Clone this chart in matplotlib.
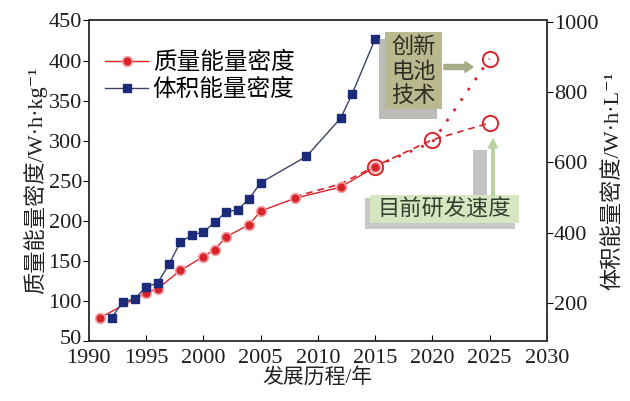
import matplotlib.pyplot as plt
from matplotlib.patches import FancyArrow, Rectangle
from matplotlib.transforms import ScaledTranslation

# mass energy density, Wh/kg (left axis)
mass_years = [1991, 1995, 1996, 1998, 2000, 2001, 2002, 2004, 2005, 2008, 2012, 2015]
mass_vals = [79, 110, 115, 138, 155, 164, 180, 195, 212, 228, 242, 267]

# volumetric energy density, Wh/L (right axis)
vol_years = [1992, 1993, 1994, 1995, 1996, 1997, 1998, 1999, 2000, 2001, 2002, 2003,
             2004, 2005, 2009, 2012, 2013, 2015]
vol_vals = [158, 204, 211, 246, 256, 310, 373, 393, 402, 429, 460, 465,
            496, 542, 617, 726, 795, 951]

# projections
trend_years = [2008, 2012, 2015, 2020, 2025]
trend_vals = [230, 246, 268, 301, 322]
new_tech_years = [2015, 2020, 2025]
new_tech_vals = [268, 298, 402]
target_years = [2015, 2020, 2025, 2025]
target_vals = [267, 301, 322, 402]

plt.rcParams['font.family'] = ['Liberation Serif', 'Noto Sans CJK SC', 'DejaVu Serif']
plt.rcParams['axes.linewidth'] = 1.1
plt.rcParams['axes.edgecolor'] = '#333333'
CJK = ['Noto Sans CJK SC', 'DejaVu Sans']

red = '#d8232a'
blue = '#1c2a7a'

fig = plt.figure(figsize=(6.3, 4.01), dpi=100)
ax = fig.add_axes([0.141, 0.150, 0.727, 0.799])
ax2 = ax.twinx()

ax.plot(trend_years, trend_vals, ls=(0, (4, 3)), color=red, lw=1.2, zorder=3)
ax.plot(new_tech_years, new_tech_vals, ls=(0, (1, 3.5)), color=red, lw=2, zorder=3)
l1, = ax.plot(mass_years, mass_vals, '-o', color=red, lw=1.0, ms=7,
              mfc=red, mec='#f2a0a4', mew=1.2, zorder=4, label='质量能量密度')
ax.plot(target_years, target_vals, 'o', ms=11, mfc='none', mec=red, mew=1.4, zorder=5)

l2, = ax2.plot(vol_years, vol_vals, '-s', color='#3a4466', lw=1.0, ms=5.5,
               mfc=blue, mec=blue, zorder=4, label='体积能量密度')

ax.set_xlim(1990, 2030)
ax.set_ylim(50, 450)
ax2.set_ylim(92, 1004)
ax.set_xticks(range(1990, 2031, 5))
ax.set_yticks(range(50, 451, 50))
ax2.set_yticks(range(200, 1001, 200))

ax.tick_params(axis='x', direction='in', length=4, pad=6)
ax.tick_params(axis='y', direction='out', length=4, pad=1)
ax2.tick_params(axis='y', direction='out', length=4, pad=1)
for a in (ax, ax2):
    for lab in a.get_xticklabels() + a.get_yticklabels():
        lab.set_family('Liberation Serif')
        lab.set_fontsize(16)
        lab.set_color('#1e1e1e')

# lift the bottom "50" a little so it clears "1990"
lab50 = ax.get_yticklabels()[0]
lab50.set_transform(lab50.get_transform() + ScaledTranslation(0, 3 / 72, fig.dpi_scale_trans))

ax.set_xlabel('发展历程/年', fontsize=15, labelpad=0, color='#222222')
ax.set_ylabel('质量能量密度/W·h·kg⁻¹', fontsize=16, labelpad=1, color='#222222')
ax2.set_ylabel('体积能量密度/W·h·L⁻¹', fontsize=16, labelpad=3, color='#222222')

ax.legend(handles=[l1, l2], loc='upper left', bbox_to_anchor=(-0.01, 0.97),
          frameon=False, handlelength=1.8, handletextpad=0.2,
          borderaxespad=0.5, labelspacing=0.15,
          prop={'family': CJK, 'size': 17})

# "创新电池技术" box with shadow and arrow
fig.patches.append(Rectangle((379, 401 - 119), 58, 80, transform=None,
                             facecolor='#858581', alpha=0.55, edgecolor='none', zorder=2))
fig.patches.append(Rectangle((385, 401 - 109), 57, 77, transform=None,
                             facecolor='#b9b88e', edgecolor='none', zorder=3))
fig.text(413.5 / 630, 1 - 71 / 401, '创新\n电池\n技术', ha='center', va='center',
         fontsize=16, linespacing=1.1, color='#2e2e22', family=CJK, zorder=4)
fig.patches.append(FancyArrow(444, 401 - 67, 21, 0, width=5, head_width=11,
                              head_length=8, transform=None, color='#a6ab86',
                              zorder=3))

# "目前研发速度" box with shadow and arrow
fig.patches.append(Rectangle((473, 401 - 197), 14, 47, transform=None,
                             facecolor='#9a9a9a', alpha=0.6, edgecolor='none', zorder=2))
fig.patches.append(Rectangle((365, 401 - 229), 150, 31, transform=None,
                             facecolor='#9c9c9c', alpha=0.55, edgecolor='none', zorder=2))
fig.patches.append(Rectangle((370, 401 - 223), 149, 28, transform=None,
                             facecolor='#d5e6c1', edgecolor='none', zorder=3))
fig.text(444 / 630, 1 - 209 / 401, '目前研发速度', ha='center', va='center',
         fontsize=16, color='#34402f', family=CJK, zorder=4)
fig.patches.append(FancyArrow(493, 401 - 196, 0, 48, width=2.5, head_width=9,
                              head_length=9, transform=None, color='#b9d39f',
                              zorder=3))

fig.savefig('out.png', dpi=100)
